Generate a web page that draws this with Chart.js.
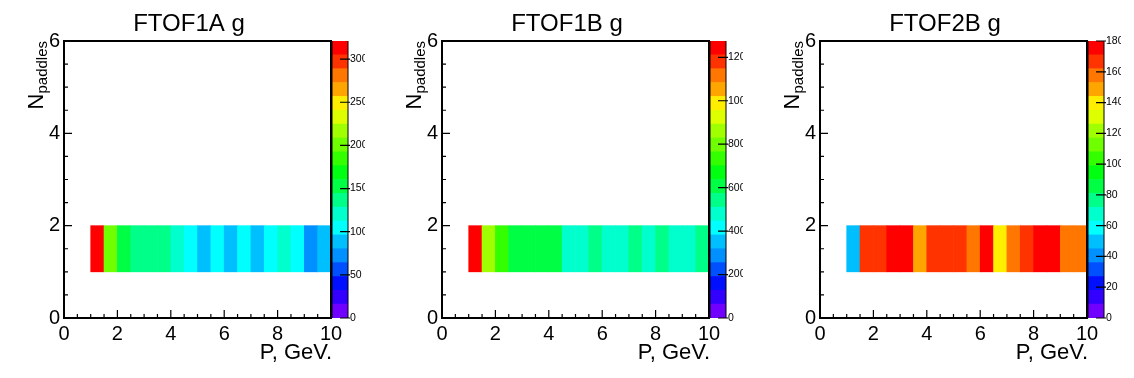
<!DOCTYPE html>
<html><head><meta charset="utf-8">
<script src="https://cdn.jsdelivr.net/npm/chart.js@4.4.1/dist/chart.umd.min.js"></script>
<style>
html,body{margin:0;padding:0;background:#fff;}
#wrap{position:relative;width:1134px;height:378px;overflow:hidden;background:#fff;}
.pane{position:absolute;top:0;width:378px;height:378px;}
.zbar{position:absolute;top:0;width:39px;height:378px;}
</style></head><body><div id="wrap"></div>
<script>
// ---- data ----
const pCenters = [1.25,1.75,2.25,2.75,3.25,3.75,4.25,4.75,5.25,5.75,6.25,6.75,7.25,7.75,8.25,8.75,9.25,9.75];
const nPaddlesBin = [1, 2];
const titles = ['FTOF1A g', 'FTOF1B g', 'FTOF2B g'];
const ftof1a = [321,200,152,136,138,140,120,104,88,100,90,102,90,100,118,102,72,88];
const ftof1b = [1275,860,730,600,610,620,605,480,485,540,480,490,540,490,530,490,480,530];
const ftof2b = [50,166,167,175,178,148,165,167,168,158,176,140,157,166,180,176,158,157];
const zMax = [321, 1275, 180];
const xTicks = [0,2,4,6,8,10];
const yTicks = [0,2,4,6];
const zTicks1a = [0,50,100,150,200,250,300];
const zTicks1b = [0,200,400,600,800,1000,1200];
const zTicks2b = [0,20,40,60,80,100,120,140,160,180];
const xMinorStep = 0.5, yMinorStep = 0.5;

const palette = ['#7000FF','#3300FF','#0010FF','#0050FF','#0090FF','#00BFFF','#00FFFF','#00FFCC','#00FF88','#00FF44',
                 '#00FF11','#33FF00','#70FF00','#A0FF00','#DDFF00','#FFEE00','#FFA500','#FF7700','#FF3300','#FF0000'];
const FONT = "'Liberation Sans', Arial, Helvetica, sans-serif";

function colorFor(v, zmax){
  const lvl = Math.min(palette.length-1, Math.floor(v / zmax * palette.length));
  return palette[lvl];
}

const mainPlugin = {
  id: 'rootFrame',
  afterDraw(chart){
    const {ctx, chartArea:a, scales:{x, y}} = chart;
    ctx.save();
    ctx.strokeStyle = '#000';
    ctx.lineWidth = 1.2;
    ctx.beginPath();
    for (let v = x.min; v <= x.max + 1e-9; v += xMinorStep){
      const px = x.getPixelForValue(v);
      const major = xTicks.includes(Math.round(v*1000)/1000);
      ctx.moveTo(px, a.bottom); ctx.lineTo(px, a.bottom - (major ? 8 : 4));
    }
    for (let v = y.min; v <= y.max + 1e-9; v += yMinorStep){
      const py = y.getPixelForValue(v);
      const major = yTicks.includes(Math.round(v*1000)/1000);
      ctx.moveTo(a.left, py); ctx.lineTo(a.left + (major ? 8 : 4), py);
    }
    ctx.stroke();
    ctx.lineWidth = 2;
    ctx.strokeRect(a.left, a.top, a.right - a.left, a.bottom - a.top);
    // axis titles
    ctx.fillStyle = '#000';
    ctx.font = '22px ' + FONT;
    ctx.textAlign = 'right';
    ctx.textBaseline = 'alphabetic';
    ctx.fillText('P, GeV.', a.right + 1, 359);
    // y title N_paddles rotated
    ctx.translate(43, a.top);
    ctx.rotate(-Math.PI/2);
    ctx.textAlign = 'left';
    ctx.font = '15px ' + FONT;
    const wSub = ctx.measureText('paddles').width;
    ctx.font = '22px ' + FONT;
    const wN = ctx.measureText('N').width;
    const start = -(wSub + wN);
    ctx.fillText('N', start, 0);
    ctx.font = '15px ' + FONT;
    ctx.fillText('paddles', start + wN, 4);
    ctx.restore();
  }
};

const zbarPlugin = {
  id: 'zFrame',
  afterDraw(chart){
    const {ctx, chartArea:a, scales:{y}} = chart;
    ctx.save();
    ctx.strokeStyle = '#000';
    ctx.lineWidth = 1.2;
    ctx.beginPath();
    y.ticks.forEach(t => {
      const py = y.getPixelForValue(t.value);
      ctx.moveTo(a.right - 8, py); ctx.lineTo(a.right + 2, py);
    });
    ctx.stroke();
    ctx.lineWidth = 1;
    ctx.beginPath();
    ctx.moveTo(a.left, a.top); ctx.lineTo(a.left, a.bottom);
    ctx.moveTo(a.right, a.top); ctx.lineTo(a.right, a.bottom);
    ctx.stroke();
    ctx.restore();
  }
};

const wrap = document.getElementById('wrap');
const allValues = [ftof1a, ftof1b, ftof2b];
const allZTicks = [zTicks1a, zTicks1b, zTicks2b];

allValues.forEach((vals, i) => {
  const off = i * 378;
  const d1 = document.createElement('div'); d1.className = 'pane'; d1.style.left = off + 'px';
  const c1 = document.createElement('canvas'); d1.appendChild(c1); wrap.appendChild(d1);
  const d2 = document.createElement('div'); d2.className = 'zbar'; d2.style.left = (off + 326) + 'px';
  const c2 = document.createElement('canvas'); d2.appendChild(c2); wrap.appendChild(d2);
  const zmax = zMax[i];

  c1.width = 378; c1.height = 378;
  new Chart(c1, {
    type: 'bar',
    data: {
      datasets: [{
        data: pCenters.map((p, k) => ({x: p, y: [nPaddlesBin[0], nPaddlesBin[1]], v: vals[k]})),
        backgroundColor: vals.map(v => colorFor(v, zmax)),
        borderWidth: 0,
        barPercentage: 1,
        categoryPercentage: 1
      }]
    },
    options: {
      responsive: false, maintainAspectRatio: false, animation: false, events: [],
      layout: {padding: 0},
      plugins: {
        legend: {display: false}, tooltip: {enabled: false},
        title: {display: true, text: titles[i], color: '#000',
                font: {family: FONT, size: 24, weight: 'normal', lineHeight: 1.2},
                padding: {top: 10, bottom: 2.2}}
      },
      scales: {
        x: {type: 'linear', min: 0, max: 10, offset: false,
            grid: {display: false, offset: false, drawTicks: false}, border: {display: false},
            afterBuildTicks: s => { s.ticks = xTicks.map(v => ({value: v})); },
            afterFit: s => { s.height = 60; },
            ticks: {color: '#000', padding: 4, maxRotation: 0, autoSkip: false,
                    callback: v => String(v), font: {family: FONT, size: 20}}},
        y: {type: 'linear', min: 0, max: 6,
            grid: {display: false, drawTicks: false}, border: {display: false},
            afterBuildTicks: s => { s.ticks = yTicks.map(v => ({value: v})); },
            afterFit: s => { s.width = 64; },
            ticks: {color: '#000', padding: 4, callback: v => String(v), font: {family: FONT, size: 20}}},
        yPad: {type: 'linear', position: 'right', min: 0, max: 6, display: true,
               grid: {display: false, drawTicks: false}, border: {display: false},
               ticks: {display: false},
               afterFit: s => { s.width = 47; }}
      }
    },
    plugins: [mainPlugin]
  });

  c2.width = 39; c2.height = 378;
  new Chart(c2, {
    type: 'bar',
    data: {
      labels: [''],
      datasets: palette.map(col => ({data: [zmax / palette.length], backgroundColor: col,
                                     borderWidth: 0, barPercentage: 1, categoryPercentage: 1}))
    },
    options: {
      responsive: false, maintainAspectRatio: false, animation: false, events: [],
      layout: {padding: {left: 6, right: 0, top: 41, bottom: 60}},
      plugins: {legend: {display: false}, tooltip: {enabled: false}, title: {display: false}},
      scales: {
        x: {display: false, stacked: true},
        y: {position: 'right', stacked: true, min: 0, max: zmax,
            grid: {display: false, drawTicks: false}, border: {display: false},
            afterBuildTicks: s => { s.ticks = allZTicks[i].map(v => ({value: v})); },
            afterFit: s => { s.width = 17; },
            ticks: {color: '#000', padding: 2, callback: v => String(v), font: {family: FONT, size: 10.5}}}
      }
    },
    plugins: [zbarPlugin]
  });
});
</script></body></html>
